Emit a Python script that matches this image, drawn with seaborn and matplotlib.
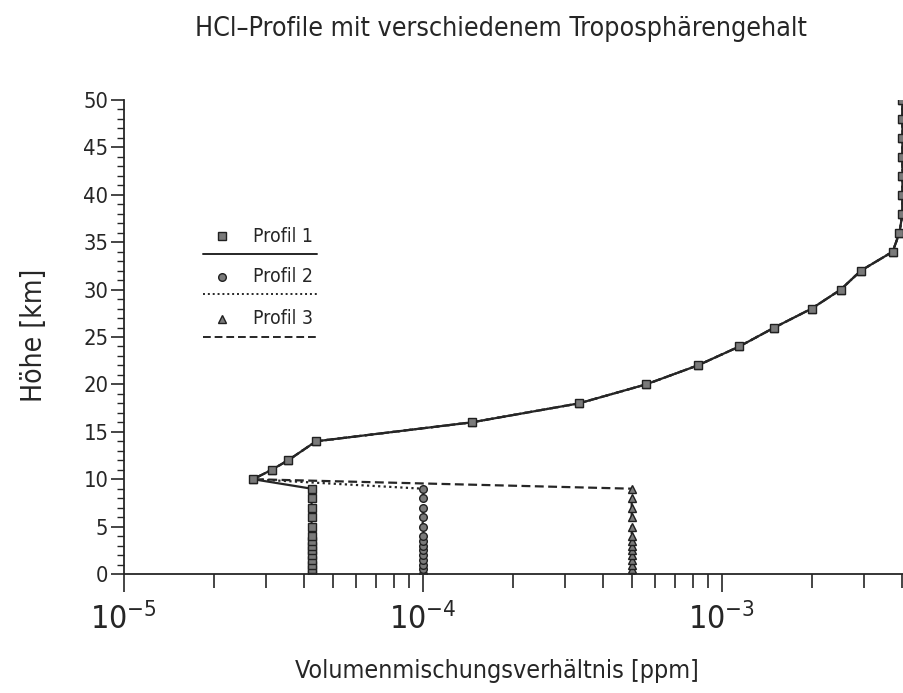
import numpy as np
import pandas as pd
import seaborn as sns
import matplotlib
matplotlib.use("Agg")
from matplotlib import pyplot as plt
from matplotlib import font_manager as fm
from matplotlib.ticker import LogLocator, MultipleLocator, NullFormatter

# upper part, identical for all three profiles (height in km, mixing ratio in ppm)
strat_height = [10, 11, 12, 14, 16, 18, 20, 22, 24, 26, 28, 30, 32, 34, 36,
                38, 40, 42, 44, 46, 48, 50]
strat_vmr = [2.71e-5, 3.13e-5, 3.55e-5, 4.40e-5, 1.46e-4, 3.33e-4, 5.58e-4,
             8.31e-4, 1.145e-3, 1.50e-3, 2.00e-3, 2.50e-3, 2.92e-3, 3.73e-3,
             3.93e-3, 4.02e-3, 4.02e-3, 4.02e-3, 4.02e-3, 4.02e-3, 4.02e-3, 4.02e-3]

# troposphere: each profile keeps its own constant mixing ratio
tropo_height = [0, 0.5, 1, 1.5, 2, 2.5, 3, 3.5, 4, 5, 6, 7, 8, 9]
profiles = ["Profil 1", "Profil 2", "Profil 3"]
tropo_vmr = [4.25e-5, 1.0e-4, 5.0e-4]

rows = []
for name, v in zip(profiles, tropo_vmr):
    for h in tropo_height:
        rows.append((name, h, v))
    for h, s in zip(strat_height, strat_vmr):
        rows.append((name, h, s))
df = pd.DataFrame(rows, columns=["profil", "hoehe", "vmr"])


def pick_narrow_font():
    # the original uses a narrow plotter font; take a condensed face if there is one
    good = []
    for f in fm.fontManager.ttflist:
        st = f.stretch
        narrow = ("Narrow" in f.name or "Condensed" in f.name
                  or st in ("condensed", "semi-condensed", "extra-condensed", "ultra-condensed")
                  or (isinstance(st, (int, float)) and st < 500))
        if (narrow and f.style == "normal" and f.weight in (400, "normal", "regular", "book")
                and "Mono" not in f.name and "Serif" not in f.name):
            good.append(f)
    good.sort(key=lambda f: ("Sans" not in f.name, f.name))
    if good:
        return good[0].name, good[0].stretch
    return "Liberation Sans", "normal"


sns.set_style("ticks")
fam, stretch = pick_narrow_font()
plt.rcParams["font.family"] = [fam, "DejaVu Sans"]
plt.rcParams["font.stretch"] = stretch
plt.rcParams["mathtext.default"] = "regular"

ink = "#262626"
markers = {"Profil 1": "s", "Profil 2": "o", "Profil 3": "^"}
dashes = {"Profil 1": "", "Profil 2": (1, 1.5), "Profil 3": (4, 2)}

fig = plt.figure(figsize=(9.04, 6.93), dpi=100)
ax = fig.add_axes([0.1368, 0.1717, 0.8632, 0.684])

# draw profile 3 first so the squares of profile 1 stay on top
sns.lineplot(data=df, x="vmr", y="hoehe", hue="profil", style="profil",
             hue_order=profiles[::-1], style_order=profiles[::-1],
             palette={p: ink for p in profiles}, markers=markers, dashes=dashes,
             sort=False, estimator=None, legend=False, ax=ax,
             linewidth=1.6, markersize=5.5, markerfacecolor="#7a7a7a",
             markeredgecolor="#202020", markeredgewidth=1.0)

ax.set_xscale("log")
ax.set_xlim(1e-5, 4.07e-3)
ax.set_ylim(0, 50)
ax.xaxis.set_major_locator(LogLocator(base=10, numticks=10))
ax.xaxis.set_minor_locator(LogLocator(base=10, subs=np.arange(2, 10), numticks=20))
ax.xaxis.set_minor_formatter(NullFormatter())
ax.yaxis.set_major_locator(MultipleLocator(5))
ax.yaxis.set_minor_locator(MultipleLocator(1))

for side in ["top", "right"]:
    ax.spines[side].set_visible(False)
for side in ["left", "bottom"]:
    ax.spines[side].set_color(ink)
    ax.spines[side].set_linewidth(1.3)

ax.tick_params(axis="x", which="major", length=13, width=1.2, color=ink,
               labelsize=23, pad=8, labelcolor=ink)
ax.tick_params(axis="x", which="minor", length=10, width=1.2, color=ink)
ax.tick_params(axis="y", which="major", length=9.5, width=1.2, color=ink,
               labelsize=17, pad=1.5, labelcolor=ink)
ax.tick_params(axis="y", which="minor", length=5, width=1.0, color=ink)

ax.set_xlabel("Volumenmischungsverhältnis [ppm]", fontsize=25, color=ink)
ax.set_ylabel("Höhe [km]", fontsize=24, color=ink)
ax.xaxis.label.set_va("baseline")
ax.xaxis.set_label_coords(0.478, -0.219)
ax.yaxis.set_label_coords(-0.097, 0.504)
title = ax.set_title("HCl–Profile mit verschiedenem Troposphärengehalt",
                     fontsize=23, color=ink, pad=46, x=0.484)

# legend: marker and name, with the line style drawn underneath
leg_rows = [0.713, 0.627, 0.538]
leg_texts = []
for name, y in zip(profiles, leg_rows):
    ax.plot([0.1256], [y], marker=markers[name], markersize=5.5,
            markerfacecolor="#7a7a7a", markeredgecolor="#202020",
            markeredgewidth=1.0, linestyle="none", transform=ax.transAxes)
    leg_texts.append(ax.text(0.1653, y, name, fontsize=18, color=ink, va="center",
                             ha="left", transform=ax.transAxes))
    line, = ax.plot([0.1012, 0.2473], [y - 0.037, y - 0.037], color=ink,
                    linewidth=1.4, transform=ax.transAxes, clip_on=False)
    if dashes[name]:
        line.set_dashes(dashes[name])

# scale the font sizes so the texts take the lengths they have in the original
fig.canvas.draw()
r = fig.canvas.get_renderer()


def width_of(t):
    return t.get_window_extent(renderer=r).width


k = 617 / width_of(title)
title.set_fontsize(title.get_fontsize() * k)
k = 406 / width_of(ax.xaxis.label)
ax.xaxis.label.set_fontsize(ax.xaxis.label.get_fontsize() * k)
k = 134 / ax.yaxis.label.get_window_extent(renderer=r).height
ax.yaxis.label.set_fontsize(ax.yaxis.label.get_fontsize() * k)
k = 60 / width_of(leg_texts[0])
for t in leg_texts:
    t.set_fontsize(t.get_fontsize() * k)
yl = [t for t in ax.get_yticklabels() if t.get_text() == "50"]
k = 25 / width_of(yl[0])
ax.tick_params(axis="y", which="major", labelsize=17 * k)

fig.savefig("out.png", dpi=100)
